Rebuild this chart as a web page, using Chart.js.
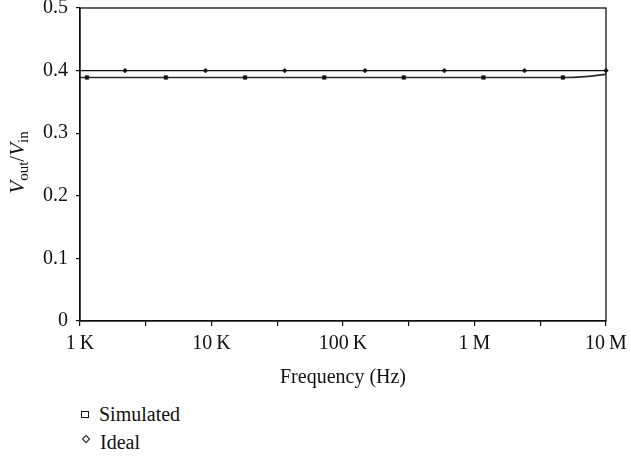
<!DOCTYPE html>
<html>
<head>
<meta charset="utf-8">
<script src="https://cdn.jsdelivr.net/npm/chart.js@4.4.0/dist/chart.umd.min.js"></script>
<style>
  html,body{margin:0;padding:0;background:#fff;}
  #wrap{position:relative;width:631px;height:457px;}
  #c{position:absolute;left:0;top:0;}
  .leg{position:absolute;left:81px;font-family:"Liberation Serif","DejaVu Serif",serif;font-size:20px;line-height:23px;color:#111;display:flex;align-items:center;}
  .sq{display:inline-block;width:6px;height:5px;border:1.3px solid #111;margin-right:10px;}
  .dm{display:inline-block;width:4px;height:4px;border:1.3px solid #111;transform:rotate(45deg);margin:0 11px 0 2px;position:relative;top:-4px;}
</style>
</head>
<body>
<div id="wrap">
  <canvas id="c" width="631" height="390"></canvas>
  <div class="leg" style="top:403px;"><span class="sq"></span><span>Simulated</span></div>
  <div class="leg" style="top:431px;"><span class="dm"></span><span>Ideal</span></div>
</div>
<script>
// ---- data ----
const simFreq   = [1000, 1130, 4500, 18000, 72000, 290000, 1170000, 4700000, 7000000, 10000000];
const simValue  = [0.389, 0.389, 0.389, 0.389, 0.389, 0.389, 0.389, 0.389, 0.3905, 0.394];
const simMarker = [false, true, true, true, true, true, true, true, false, false];

const idealFreq   = [1000, 2200, 9000, 36000, 147000, 590000, 2400000, 10000000];
const idealValue  = [0.4, 0.4, 0.4, 0.4, 0.4, 0.4, 0.4, 0.4];
const idealMarker = [false, true, true, true, true, true, true, true];

const xTickValues = [1e3, 3162, 1e4, 31623, 1e5, 316228, 1e6, 3162278, 1e7];
const xTickLabels = {1000:"1\u2009K", 10000:"10\u2009K", 100000:"100\u2009K", 1000000:"1\u2009M", 10000000:"10\u2009M"};
const yTickValues = [0, 0.1, 0.2, 0.3, 0.4, 0.5];
const yTickLabels = ["0", "0.1", "0.2", "0.3", "0.4", "0.5"];

const FONT = "'Liberation Serif', 'DejaVu Serif', serif";

const boxPlugin = {
  id: 'box',
  afterDatasetsDraw(chart) {
    const {ctx, chartArea: a} = chart;
    ctx.save();
    ctx.strokeStyle = '#111';
    ctx.lineWidth = 1.3;
    ctx.strokeRect(a.left, a.top, a.right - a.left, a.bottom - a.top);
    ctx.restore();
  }
};

const yTitlePlugin = {
  id: 'ytitle',
  afterDraw(chart) {
    const {ctx, chartArea: a} = chart;
    const parts = [
      {t: 'V', f: 'italic 21px ' + FONT, dy: 0},
      {t: 'out', f: '15px ' + FONT, dy: 4},
      {t: '/', f: '21px ' + FONT, dy: 0},
      {t: 'V', f: 'italic 21px ' + FONT, dy: 0},
      {t: 'in', f: '15px ' + FONT, dy: 4}
    ];
    ctx.save();
    let total = 0;
    parts.forEach(p => { ctx.font = p.f; p.w = ctx.measureText(p.t).width; total += p.w; });
    const cy = (a.top + a.bottom) / 2 - 2;
    ctx.translate(24, cy);
    ctx.rotate(-Math.PI / 2);
    ctx.fillStyle = '#111';
    ctx.textBaseline = 'alphabetic';
    let x = -total / 2;
    parts.forEach(p => { ctx.font = p.f; ctx.fillText(p.t, x, p.dy); x += p.w; });
    ctx.restore();
  }
};

function pts(fx, vy) { return fx.map((f, i) => ({x: f, y: vy[i]})); }

new Chart(document.getElementById('c'), {
  type: 'line',
  data: {
    datasets: [
      {
        label: 'Simulated',
        data: pts(simFreq, simValue),
        borderColor: '#2a2a2a',
        borderWidth: 1.7,
        pointStyle: 'rect',
        pointRadius: simMarker.map(m => m ? 2.6 : 0),
        pointBackgroundColor: '#111',
        pointBorderColor: '#111',
        pointBorderWidth: 0.5,
        cubicInterpolationMode: 'monotone',
        clip: false
      },
      {
        label: 'Ideal',
        data: pts(idealFreq, idealValue),
        borderColor: '#111',
        borderWidth: 1.4,
        pointStyle: 'rectRot',
        pointRadius: idealMarker.map(m => m ? 2.4 : 0),
        pointBackgroundColor: '#111',
        pointBorderColor: '#111',
        pointBorderWidth: 0.5,
        clip: false
      }
    ]
  },
  options: {
    responsive: false,
    animation: false,
    events: [],
    layout: {padding: {left: 0, right: 25, top: 8, bottom: 0}},
    plugins: {legend: {display: false}, tooltip: {enabled: false}},
    scales: {
      x: {
        type: 'logarithmic',
        min: 1000, max: 10000000,
        afterBuildTicks(s) { s.ticks = xTickValues.map(v => ({value: v})); },
        afterFit(s) { s.paddingRight = 0; s.paddingLeft = 0; },
        ticks: {
          autoSkip: false, maxRotation: 0, padding: 6,
          color: '#111', font: {family: FONT, size: 20},
          callback: (v) => xTickLabels[v] || ''
        },
        grid: {drawOnChartArea: false, drawTicks: true, tickLength: 5, color: '#111', lineWidth: 1.2},
        border: {display: true, color: '#111', width: 1.3},
        title: {display: true, text: 'Frequency (Hz)', color: '#111', font: {family: FONT, size: 20}, padding: {top: 4, bottom: 0}}
      },
      y: {
        type: 'linear',
        min: 0, max: 0.5,
        afterBuildTicks(s) { s.ticks = yTickValues.map(v => ({value: v})); },
        afterFit(s) { s.width = 80; s.paddingTop = 0; },
        ticks: {
          padding: 8, color: '#111', font: {family: FONT, size: 20},
          callback: (v) => { const i = yTickValues.findIndex(t => Math.abs(t - v) < 1e-9); return i >= 0 ? yTickLabels[i] : ''; }
        },
        grid: {drawOnChartArea: false, drawTicks: true, tickLength: 4, color: '#111', lineWidth: 1.2},
        border: {display: true, color: '#111', width: 1.3}
      }
    }
  },
  plugins: [boxPlugin, yTitlePlugin]
});
</script>
</body>
</html>
